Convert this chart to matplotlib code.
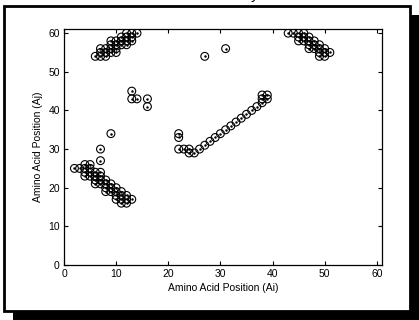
import matplotlib
matplotlib.use("Agg")
import matplotlib.pyplot as plt
from matplotlib.patches import Rectangle

plt.rcParams["font.family"] = ["Liberation Sans", "DejaVu Sans"]

# contact map: residue i (x) vs residue j (y)
ai = [2, 3,
      4, 4, 4, 4,
      5, 5, 5, 5,
      6, 6, 6, 6,
      7, 7, 7, 7, 7, 7,
      8, 8, 8, 8,
      9, 9, 9, 9,
      10, 10, 10, 10,
      11, 11, 11, 11,
      12, 12, 12,
      13,
      6,
      7, 7, 7,
      8, 8, 8,
      9, 9, 9, 9,
      10, 10, 10, 10,
      11, 11, 11,
      12, 12, 12, 12,
      13, 13, 13,
      14,
      13, 13, 14, 16, 16,
      22, 22, 22, 23, 24, 24, 25, 26, 27, 28, 29, 30, 31, 32, 33, 34, 35,
      36, 37, 38, 38, 38, 39, 39,
      27, 31,
      43, 44,
      45, 45, 45,
      46, 46, 46,
      47, 47, 47, 47,
      48, 48, 48,
      49, 49, 49, 49,
      50, 50, 50,
      51]
aj = [25, 25,
      26, 25, 24, 23,
      26, 25, 24, 23,
      24, 23, 22, 21,
      30, 27, 24, 23, 22, 21,
      22, 21, 20, 19,
      34, 21, 20, 19,
      20, 19, 18, 17,
      19, 18, 17, 16,
      18, 17, 16,
      17,
      54,
      56, 55, 54,
      56, 55, 54,
      58, 57, 56, 55,
      58, 57, 56, 55,
      59, 58, 57,
      60, 59, 58, 57,
      60, 59, 58,
      60,
      45, 43, 43, 43, 41,
      34, 33, 30, 30, 30, 29, 29, 30, 31, 32, 33, 34, 35, 36, 37, 38, 39,
      40, 41, 42, 43, 44, 44, 43,
      54, 56,
      60, 60,
      60, 59, 58,
      60, 59, 58,
      59, 58, 57, 56,
      58, 57, 56,
      57, 56, 55, 54,
      56, 55, 54,
      55]

W, H = 419, 320
fig = plt.figure(figsize=(W / 100, H / 100), dpi=100)

# drop shadow + white frame
fig.patches.append(Rectangle((13 / W, 0), 406 / W, 1 - 15 / H,
                             transform=fig.transFigure, facecolor="black",
                             edgecolor="none", zorder=0))
fig.patches.append(Rectangle((4 / W, 1 - 311 / H), 406 / W, 305 / H,
                             transform=fig.transFigure, facecolor="white",
                             edgecolor="black", linewidth=2, zorder=1))
# title cut off at the top edge, only the descender shows
fig.text(255 / W, 1 + 1 / H, "y", ha="center", va="baseline", fontsize=11)

ax = fig.add_axes([64 / W, 1 - 265 / H, 318 / W, 235.7 / H])
ax.set_zorder(2)
ax.scatter(ai, aj, s=32, facecolors="none", edgecolors="black", linewidths=0.8)
ax.scatter(ai, aj, s=0.6, color="black")

ax.set_xlim(0, 61)
ax.set_ylim(0, 61)
ax.set_xticks(range(0, 61, 10))
ax.set_yticks(range(0, 61, 10))
ax.tick_params(direction="in", top=True, right=True, length=3, width=0.8,
               labelsize=7.5, pad=3)
for s in ax.spines.values():
    s.set_linewidth(0.9)
ax.set_xlabel("Amino Acid Position (Ai)", fontsize=7.5, labelpad=3)
ax.set_ylabel("Amino Acid Position (Aj)", fontsize=7.5, labelpad=4)

fig.savefig("out.png", dpi=100)
